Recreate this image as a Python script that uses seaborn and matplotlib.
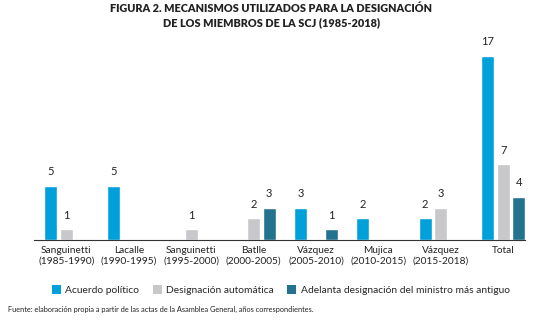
import matplotlib
matplotlib.use("Agg")
import matplotlib.pyplot as plt
import seaborn as sns
import pandas as pd

periods = ["Sanguinetti\n(1985-1990)", "Lacalle\n(1990-1995)", "Sanguinetti\n(1995-2000)",
           "Batlle\n(2000-2005)", "Vázquez\n(2005-2010)", "Mujica\n(2010-2015)",
           "Vázquez\n(2015-2018)", "Total"]
series_names = ["Acuerdo político", "Designación automática",
                "Adelanta designación del ministro más antiguo"]
acuerdo = [5, 5, 0, 0, 3, 2, 2, 17]
automatica = [1, 0, 1, 2, 0, 0, 3, 7]
adelanta = [0, 0, 0, 3, 1, 0, 0, 4]
colors = ["#00A0DB", "#C8C8CA", "#23728E"]

rows = []
for name, vals in zip(series_names, [acuerdo, automatica, adelanta]):
    for p, v in zip(periods, vals):
        rows.append({"period": p, "mech": name, "value": v})
df = pd.DataFrame(rows)

sns.set_theme(style="white")
plt.rcParams["font.family"] = ["Lato", "DejaVu Sans"]

fig = plt.figure(figsize=(5.43, 3.21), dpi=100)
ax = fig.add_axes([34/543, 1-240/321, (525-34)/543, (240-56)/321])
sns.barplot(data=df, x="period", y="value", hue="mech", palette=colors,
            order=periods, hue_order=series_names, width=0.75, gap=0.16,
            saturation=1, ax=ax, legend=False)
ax.set_ylim(0, 17)
ax.set_xlim(-0.52, 7.35)
ax.set_xlabel("")
ax.set_ylabel("")
ax.set_yticks([])
for s in ["top", "right", "left"]:
    ax.spines[s].set_visible(False)
ax.spines["bottom"].set_color("#333333")
ax.spines["bottom"].set_linewidth(0.8)
ax.tick_params(axis="x", length=0, pad=4, labelsize=7.3, colors="#222222")
for lbl in ax.get_xticklabels():
    lbl.set_linespacing(1.35)

for cont in ax.containers:
    for bar in cont:
        h = bar.get_height()
        if h > 0:
            ax.text(bar.get_x() + bar.get_width()/2, h + 0.8, f"{int(h)}",
                    ha="center", va="bottom", fontsize=8, color="#222222", clip_on=False)

fig.text(0.5, 1-9/321, "FIGURA 2. MECANISMOS UTILIZADOS PARA LA DESIGNACIÓN",
         ha="center", va="center", fontsize=7.8, fontweight="heavy", color="#222222")
fig.text(0.5, 1-23/321, "DE LOS MIEMBROS DE LA SCJ (1985-2018)",
         ha="center", va="center", fontsize=7.8, fontweight="heavy", color="#222222")

from matplotlib.patches import Patch
handles = [Patch(facecolor=c, edgecolor="none") for c in colors]
fig.legend(handles, series_names, loc="center", bbox_to_anchor=(0.517, 1-290/321),
           ncol=3, frameon=False, fontsize=7.4, handlelength=0.9, handleheight=0.9,
           handletextpad=0.4, columnspacing=1.3, borderaxespad=0)

fig.text(8/543, 1-309/321,
         "Fuente: elaboración propia a partir de las actas de la Asamblea General, años correspondientes.",
         ha="left", va="center", fontsize=5.3, color="#222222")

fig.savefig("out.png", dpi=100)
